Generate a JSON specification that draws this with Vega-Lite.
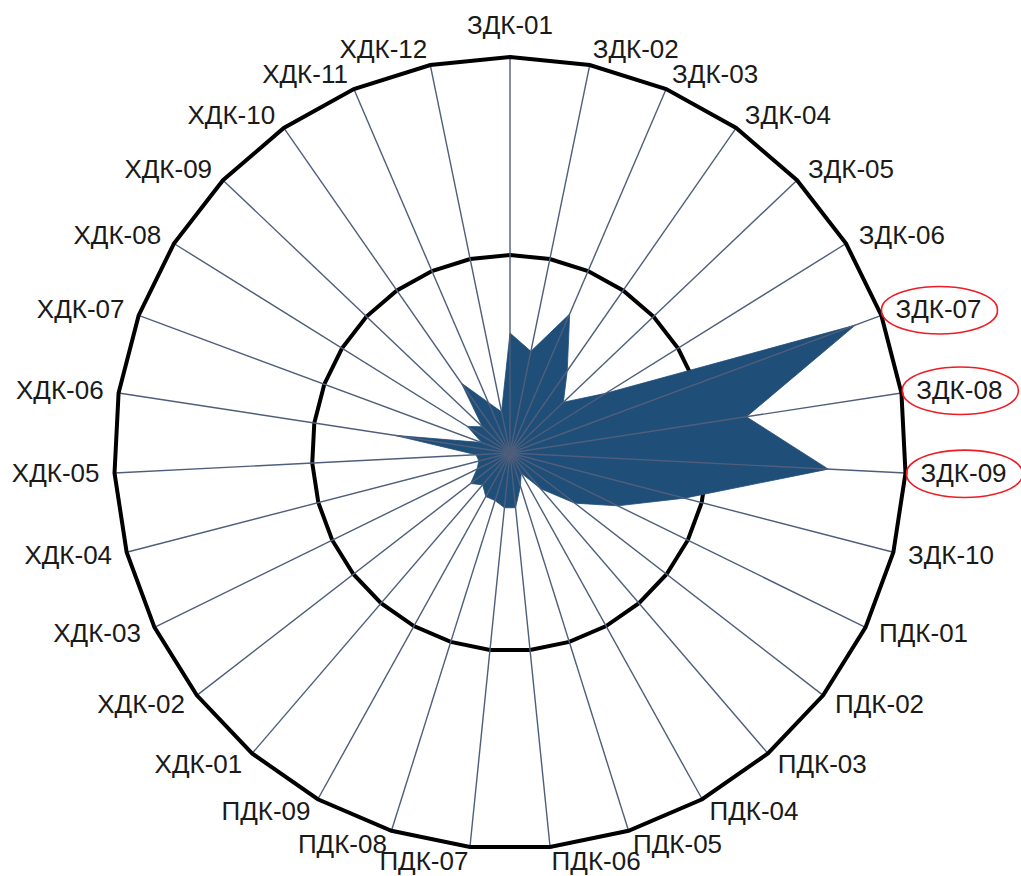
{
  "$schema": "https://vega.github.io/schema/vega-lite/v6.json",
  "width": 1021,
  "height": 876,
  "autosize": "none",
  "padding": 0,
  "background": "white",
  "config": {"view": {"stroke": null}},
  "data": {"values": [
    {"category": "ЗДК-01", "value": 30.3},
    {"category": "ЗДК-02", "value": 26.2},
    {"category": "ЗДК-03", "value": 38.2},
    {"category": "ЗДК-04", "value": 25.3},
    {"category": "ЗДК-05", "value": 18.6},
    {"category": "ЗДК-06", "value": 28.5},
    {"category": "ЗДК-07", "value": 93.0},
    {"category": "ЗДК-08", "value": 60.4},
    {"category": "ЗДК-09", "value": 80.5},
    {"category": "ЗДК-10", "value": 45.5},
    {"category": "ПДК-01", "value": 30.3},
    {"category": "ПДК-02", "value": 20.7},
    {"category": "ПДК-03", "value": 11.9},
    {"category": "ПДК-04", "value": 5.8},
    {"category": "ПДК-05", "value": 8.8},
    {"category": "ПДК-06", "value": 13.9},
    {"category": "ПДК-07", "value": 13.9},
    {"category": "ПДК-08", "value": 12.6},
    {"category": "ПДК-09", "value": 12.6},
    {"category": "ХДК-01", "value": 10.6},
    {"category": "ХДК-02", "value": 12.6},
    {"category": "ХДК-03", "value": 9.3},
    {"category": "ХДК-04", "value": 8.1},
    {"category": "ХДК-05", "value": 8.6},
    {"category": "ХДК-06", "value": 29.5},
    {"category": "ХДК-07", "value": 7.6},
    {"category": "ХДК-08", "value": 12.7},
    {"category": "ХДК-09", "value": 9.6},
    {"category": "ХДК-10", "value": 21.5},
    {"category": "ХДК-11", "value": 13.9},
    {"category": "ХДК-12", "value": 10.6}
  ]},
  "transform": [
    {"window": [{"op": "row_number", "as": "rn"}]},
    {"joinaggregate": [{"op": "count", "as": "n"}]},
    {"calculate": "2*PI*(datum.rn-1)/datum.n", "as": "ang"},
    {"calculate": "sin(datum.ang)", "as": "s"},
    {"calculate": "cos(datum.ang)", "as": "c"}
  ],
  "encoding": {
    "x": {"field": "px", "type": "quantitative", "axis": null,
          "scale": {"domain": [-128.79, 129.04], "nice": false, "zero": false}},
    "y": {"field": "py", "type": "quantitative", "axis": null,
          "scale": {"domain": [-106.82, 114.39], "nice": false, "zero": false}}
  },
  "layer": [
    {
      "transform": [
        {"calculate": "50*datum.s", "as": "px"},
        {"calculate": "50*datum.c", "as": "py"}
      ],
      "mark": {"type": "line", "interpolate": "linear-closed", "stroke": "#000000", "strokeWidth": 4},
      "encoding": {"order": {"field": "rn", "type": "quantitative"}}
    },
    {
      "transform": [
        {"calculate": "datum.value*datum.s", "as": "px"},
        {"calculate": "datum.value*datum.c", "as": "py"}
      ],
      "mark": {"type": "line", "interpolate": "linear-closed", "fill": "#1f4e79", "stroke": "#1f4e79", "strokeWidth": 0.8},
      "encoding": {"order": {"field": "rn", "type": "quantitative"}}
    },
    {
      "transform": [
        {"calculate": "100*datum.s", "as": "px"},
        {"calculate": "100*datum.c", "as": "py"}
      ],
      "mark": {"type": "rule", "stroke": "#4f5e7b", "strokeWidth": 1.4},
      "encoding": {
        "x2": {"datum": 0},
        "y2": {"datum": 0}
      }
    },
    {
      "transform": [
        {"calculate": "100*datum.s", "as": "px"},
        {"calculate": "100*datum.c", "as": "py"}
      ],
      "mark": {"type": "line", "interpolate": "linear-closed", "stroke": "#000000", "strokeWidth": 4},
      "encoding": {"order": {"field": "rn", "type": "quantitative"}}
    },
    {
      "transform": [
        {"calculate": "103.8*datum.s", "as": "px"},
        {"calculate": "103.8*datum.c", "as": "py"}
      ],
      "mark": {
        "type": "text",
        "font": "Liberation Sans",
        "fontSize": 26,
        "fill": "#1a1a1a",
        "baseline": "middle",
        "align": {"expr": "datum.s > 0.05 ? 'left' : (datum.s < -0.05 ? 'right' : 'center')"},
        "dy": {"expr": "datum.c > 0.999 ? -16 : 0"}
      },
      "encoding": {"text": {"field": "category", "type": "nominal"}}
    },
    {
      "transform": [
        {"filter": {"field": "category", "oneOf": ["ЗДК-07", "ЗДК-08", "ЗДК-09"]}},
        {"calculate": "103.8*datum.s", "as": "px"},
        {"calculate": "103.8*datum.c", "as": "py"}
      ],
      "mark": {
        "type": "point",
        "filled": false,
        "size": 14400,
        "shape": "M -0.233 0 A 0.967 0.383 0 1 0 1.700 0 A 0.967 0.383 0 1 0 -0.233 0 Z",
        "stroke": "#ee1c25",
        "strokeWidth": 1.6,
        "opacity": 1
      }
    }
  ]
}
